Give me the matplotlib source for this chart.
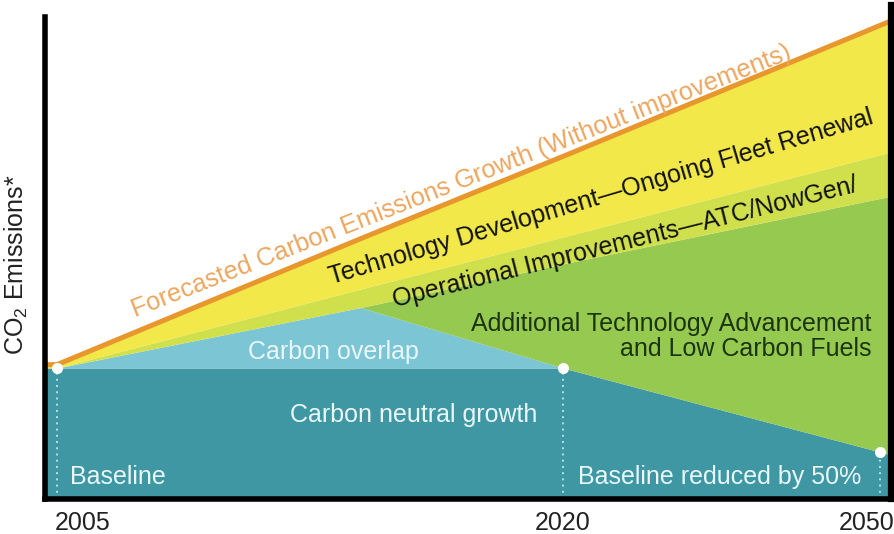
import numpy as np
import matplotlib
matplotlib.use("Agg")
import matplotlib.pyplot as plt

plt.rcParams["font.family"] = ["Liberation Sans", "DejaVu Sans"]
plt.rcParams["mathtext.fontset"] = "custom"
plt.rcParams["mathtext.rm"] = "Liberation Sans"
plt.rcParams["mathtext.it"] = "Liberation Sans:italic"
plt.rcParams["mathtext.bf"] = "Liberation Sans:bold"

# ---- schematic emission pathways (index: 2005 baseline = 100) ----
years = [2005, 2014, 2020, 2050]
target = [100, 100, 100, 50]            # carbon neutral growth, then 50% cut
overlap_top = [100, 136, 100, 50]       # upper edge of the carbon overlap wedge
ops_bottom = [100, 136, 162, 201]       # additional technology / low carbon fuels
ops_top = [100, 147, 178, 227]          # operational improvements (ATC/NextGen)
forecast = [102, 177, 226, 304]         # growth without improvements

milestone_years = [2005, 2020, 2050]
tick_labels = ["2005", "2020", "2050"]

# colours
C_TEAL = "#3f97a3"
C_OVERLAP = "#7cc5d5"
C_GREEN = "#96c94f"
C_OPS = "#d0e04d"
C_TECH = "#f2e84a"
C_ORANGE = "#e8962e"
C_ORANGE_TXT = "#eda65e"
C_LIGHT_TXT = "#e9f7f8"
C_DARK_GREEN_TXT = "#1c3410"

# compressed time axis: 2020-2050 drawn at ~63% of the 2005-2020 pace
STRETCH = 0.6265


def fwd(x):
    x = np.asarray(x, dtype=float)
    return np.where(x <= 2020, (x - 2005) / 15.0, 1.0 + (x - 2020) / 30.0 * STRETCH)


def inv(p):
    p = np.asarray(p, dtype=float)
    return np.where(p <= 1, 2005 + 15.0 * p, 2020 + (p - 1.0) / STRETCH * 30.0)


XLIM = (2004.66, 2051.03)
YLIM = (22, 309)

fig = plt.figure(figsize=(8.95, 5.34), dpi=100)
ax = fig.add_axes([45.5 / 895, 1 - 499 / 534, 845.5 / 895, 482 / 534])
ax.set_xscale("function", functions=(fwd, inv))
ax.set_xlim(*XLIM)
ax.set_ylim(*YLIM)

yr = np.asarray(years, dtype=float)
pos = fwd(yr)
p_right = float(fwd(XLIM[1]))
x_ext = np.r_[XLIM[0], yr, XLIM[1]]


def extend(vals):
    v = np.asarray(vals, dtype=float)
    slope = (v[-1] - v[-2]) / (pos[-1] - pos[-2])
    return np.r_[v[0], v, v[-1] + slope * (p_right - pos[-1])]


t_e = extend(target)
ov_e = extend(overlap_top)
ob_e = extend(ops_bottom)
ot_e = extend(ops_top)
fc_e = extend(forecast)

ax.fill_between(x_ext, 0, t_e, color=C_TEAL, lw=0, zorder=1)
ax.fill_between(x_ext, t_e, ov_e, color=C_OVERLAP, lw=0, zorder=1)
ax.fill_between(x_ext, ov_e, ob_e, color=C_GREEN, lw=0, zorder=1)
ax.fill_between(x_ext, ob_e, ot_e, color=C_OPS, lw=0, zorder=1)
ax.fill_between(x_ext, ot_e, fc_e, color=C_TECH, lw=0, zorder=1)
ax.plot(x_ext, fc_e, color=C_ORANGE, lw=3.6, solid_capstyle="butt", zorder=3)

# milestones: dotted drop lines and white markers
ms_vals = [target[years.index(y)] for y in milestone_years]
ax.vlines(milestone_years, YLIM[0], ms_vals, colors="#b5e2e8",
          linestyles=(0, (1, 2.2)), lw=1.4, zorder=2)
ax.plot(milestone_years, ms_vals, "o", ms=7, mfc="white", mec="white",
        zorder=4, clip_on=False)

# axes frame
ax.spines["top"].set_visible(False)
for side, w in (("left", 4.0), ("bottom", 4.0), ("right", 4.5)):
    ax.spines[side].set_linewidth(w)
    ax.spines[side].set_color("black")
    ax.spines[side].set_zorder(6)
ax.spines["right"].set_bounds(YLIM[0], 316)
ax.set_xticks([])
ax.set_yticks([])
ax.minorticks_off()

# year labels under the axis
lab_kw = dict(xycoords=("data", "axes fraction"), textcoords="offset points",
              va="top", fontsize=18, color="#222222", annotation_clip=False)
ax.annotate(tick_labels[0], xy=(milestone_years[0], 0), xytext=(-1.5, -9), ha="left", **lab_kw)
ax.annotate(tick_labels[1], xy=(milestone_years[1], 0), xytext=(0, -9), ha="center", **lab_kw)
ax.annotate(tick_labels[2], xy=(milestone_years[2], 0), xytext=(-10, -9), ha="center", **lab_kw)

ax.set_ylabel("CO$_2$ Emissions*", fontsize=18, color="#222222")
ax.yaxis.set_label_coords(-0.018, 0.485)

# region labels
T = ax.transAxes
ax.text(0.492, 0.660, "Forecasted Carbon Emissions Growth (Without improvements)",
        transform=T, rotation=21.5, rotation_mode="anchor", ha="center", va="center",
        fontsize=18.3, color=C_ORANGE_TXT, zorder=5)
ax.text(0.657, 0.627, "Technology Development\u2014Ongoing Fleet Renewal",
        transform=T, rotation=16.5, rotation_mode="anchor", ha="center", va="center",
        fontsize=18, color="#111111", zorder=5)
ax.text(0.686, 0.533, "Operational Improvements\u2014ATC/NowGen/",
        transform=T, rotation=14, rotation_mode="anchor", ha="center", va="center",
        fontsize=18, color="#111111", zorder=5)
ax.text(0.977, 0.338, "Additional Technology Advancement\nand Low Carbon Fuels",
        transform=T, ha="right", va="center", multialignment="right",
        linespacing=1.05, fontsize=18, color=C_DARK_GREEN_TXT, zorder=5)
ax.text(0.341, 0.305, "Carbon overlap", transform=T, ha="center", va="center",
        fontsize=18, color=C_LIGHT_TXT, zorder=5)
ax.text(0.436, 0.174, "Carbon neutral growth", transform=T, ha="center", va="center",
        fontsize=18, color=C_LIGHT_TXT, zorder=5)
ax.text(0.029, 0.046, "Baseline", transform=T, ha="left", va="center",
        fontsize=18, color=C_LIGHT_TXT, zorder=5)
ax.text(0.630, 0.046, "Baseline reduced by 50%", transform=T, ha="left", va="center",
        fontsize=18, color=C_LIGHT_TXT, zorder=5)

fig.savefig("out.png", dpi=100)
